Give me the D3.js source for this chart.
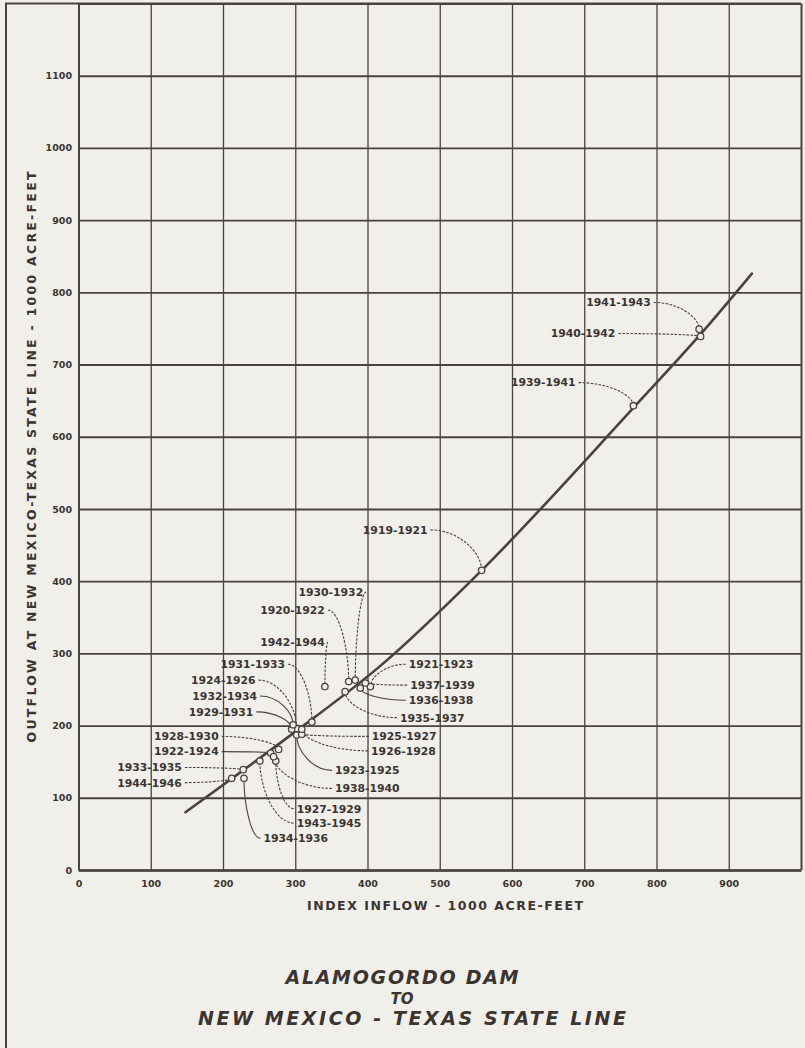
<!DOCTYPE html>
<html>
<head>
<meta charset="utf-8">
<script src="https://cdn.jsdelivr.net/npm/d3@7"></script>
<style>
  html, body { margin: 0; padding: 0; background: #f0efea; }
  svg { display: block; }
  text { font-family: "DejaVu Sans", sans-serif; fill: #3b3431; }
</style>
</head>
<body>
<svg id="chart" width="805" height="1048"></svg>
<script>
// three-year periods, index inflow and state line outflow (1000 acre-feet)
const periods = [
  "1919-1921", "1920-1922", "1921-1923", "1922-1924", "1923-1925", "1924-1926",
  "1925-1927", "1926-1928", "1927-1929", "1928-1930", "1929-1931", "1930-1932",
  "1931-1933", "1932-1934", "1933-1935", "1934-1936", "1935-1937", "1936-1938",
  "1937-1939", "1938-1940", "1939-1941", "1940-1942", "1941-1943", "1942-1944",
  "1943-1945", "1944-1946"
]
const inflow = [
  558, 374, 404, 266, 302, 302,
  309, 309, 273, 277, 295, 383,
  323, 297, 228, 229, 369, 390,
  397, 270, 768, 861, 859, 341,
  251, 212
]
const outflow = [
  415, 261, 254, 162, 187, 196,
  188, 195, 151, 167, 195, 263,
  205, 201, 139, 127, 247, 252,
  259, 157, 643, 739, 749, 254,
  151, 127
]

// drawn relation line
const curveInflow = [148, 302, 417, 558, 768, 861, 932]
const curveOutflow = [80, 193, 282, 415, 640, 742, 826]

const xTicks = [0, 100, 200, 300, 400, 500, 600, 700, 800, 900, 1000]
const yTicks = [0, 100, 200, 300, 400, 500, 600, 700, 800, 900, 1000, 1100, 1200]

// where each period label sits (chart units) and which way it reads
const labelAt = {
  "1930-1932": [394, 385, "end"],
  "1920-1922": [341, 360, "end"],
  "1942-1944": [341, 316, "end"],
  "1931-1933": [286, 285, "end"],
  "1924-1926": [245, 263, "end"],
  "1932-1934": [247, 241, "end"],
  "1929-1931": [242, 219, "end"],
  "1928-1930": [194, 185, "end"],
  "1922-1924": [194, 164, "end"],
  "1933-1935": [143, 142, "end"],
  "1944-1946": [143, 121, "end"],
  "1927-1929": [302, 85, "start"],
  "1943-1945": [302, 65, "start"],
  "1934-1936": [256, 44, "start"],
  "1921-1923": [457, 285, "start"],
  "1937-1939": [459, 256, "start"],
  "1936-1938": [457, 235, "start"],
  "1935-1937": [445, 211, "start"],
  "1925-1927": [406, 185, "start"],
  "1926-1928": [405, 165, "start"],
  "1923-1925": [355, 138, "start"],
  "1938-1940": [355, 113, "start"],
  "1919-1921": [483, 471, "end"],
  "1939-1941": [688, 675, "end"],
  "1940-1942": [743, 743, "end"],
  "1941-1943": [792, 786, "end"]
}
const solidLeaders = ["1932-1934", "1929-1931", "1934-1936", "1936-1938", "1923-1925", "1922-1924"]

const ink = "#4a423e"
const svg = d3.select("#chart")

const x = d3.scaleLinear().domain([0, 1000]).range([78.5, 801])
const y = d3.scaleLinear().domain([0, 1200]).range([870, 3.5])

// outer frame
svg.append("line")
  .attr("x1", 6).attr("x2", 6).attr("y1", 3.5).attr("y2", 1048)
  .attr("stroke", ink).attr("stroke-width", 2)
svg.append("line")
  .attr("x1", 5).attr("x2", x(1000)).attr("y1", y(1200)).attr("y2", y(1200))
  .attr("stroke", ink).attr("stroke-width", 2.2)

// vertical grid + x tick labels
const xAxis = svg.append("g")
  .attr("transform", `translate(0,${y(0)})`)
  .call(d3.axisBottom(x)
    .tickValues(xTicks)
    .tickSizeInner(-(y(0) - y(1200)))
    .tickSizeOuter(0)
    .tickPadding(10)
    .tickFormat(d => d < 1000 ? d : ""))
xAxis.select(".domain").attr("stroke", ink).attr("stroke-width", 2.6)
xAxis.selectAll(".tick line").attr("stroke", ink).attr("stroke-width", d => (d === 0 || d === 1000) ? 2 : 1.3)
xAxis.selectAll(".tick text")
  .attr("font-size", 9.5).attr("font-weight", "bold")
  .attr("font-family", "DejaVu Sans").attr("fill", "#3b3431")

// horizontal grid + y tick labels
const yAxis = svg.append("g")
  .attr("transform", `translate(${x(0)},0)`)
  .call(d3.axisLeft(y)
    .tickValues(yTicks)
    .tickSizeInner(-(x(1000) - x(0)))
    .tickSizeOuter(0)
    .tickPadding(6.5)
    .tickFormat(d => d < 1200 ? d : ""))
yAxis.select(".domain").attr("stroke", ink).attr("stroke-width", 2)
yAxis.selectAll(".tick line").attr("stroke", ink).attr("stroke-width", 1.9)
yAxis.selectAll(".tick text")
  .attr("font-size", 9.5).attr("font-weight", "bold")
  .attr("font-family", "DejaVu Sans").attr("fill", "#3b3431")

// relation line
const curvePts = curveInflow.map((v, i) => [v, curveOutflow[i]])
svg.append("path")
  .datum(curvePts)
  .attr("fill", "none")
  .attr("stroke", ink)
  .attr("stroke-width", 2.6)
  .attr("stroke-linecap", "round")
  .attr("d", d3.line().x(d => x(d[0])).y(d => y(d[1])).curve(d3.curveMonotoneX))

const points = periods.map((p, i) => {
  const [lx, ly, anchor] = labelAt[p]
  return { period: p, inflow: inflow[i], outflow: outflow[i], lx, ly, anchor }
})

// leaders from label to point
svg.append("g")
  .selectAll("path")
  .data(points)
  .join("path")
  .attr("fill", "none")
  .attr("stroke", ink)
  .attr("stroke-width", 1.1)
  .attr("stroke-dasharray", d => solidLeaders.includes(d.period) ? null : "2.6,1.4")
  .attr("d", d => {
    const sx = x(d.lx) + (d.anchor === "end" ? 3 : -3)
    const sy = y(d.ly)
    const px = x(d.inflow), py = y(d.outflow)
    const c1 = [sx + 0.55 * (px - sx), sy]
    const c2 = [px, sy + 0.55 * (py - sy)]
    return `M${sx},${sy}C${c1[0]},${c1[1]} ${c2[0]},${c2[1]} ${px},${py}`
  })

// points
svg.append("g")
  .selectAll("circle")
  .data(points)
  .join("circle")
  .attr("cx", d => x(d.inflow))
  .attr("cy", d => y(d.outflow))
  .attr("r", 3.2)
  .attr("fill", "#f0efea")
  .attr("stroke", ink)
  .attr("stroke-width", 1.3)

// period labels
svg.append("g")
  .selectAll("text")
  .data(points)
  .join("text")
  .attr("x", d => x(d.lx))
  .attr("y", d => y(d.ly))
  .attr("dy", "0.36em")
  .attr("text-anchor", d => d.anchor)
  .attr("font-size", 10.8)
  .attr("font-weight", "bold")
  .text(d => d.period)

// axis titles
svg.append("text")
  .attr("transform", "translate(36,457) rotate(-90)")
  .attr("text-anchor", "middle")
  .attr("font-size", 12.5)
  .attr("font-weight", "bold")
  .attr("textLength", 571)
  .attr("lengthAdjust", "spacing")
  .text("OUTFLOW AT NEW MEXICO-TEXAS STATE LINE - 1000 ACRE-FEET")

svg.append("text")
  .attr("x", 445).attr("y", 909.5)
  .attr("text-anchor", "middle")
  .attr("font-size", 12.5)
  .attr("font-weight", "bold")
  .attr("textLength", 276)
  .attr("lengthAdjust", "spacing")
  .text("INDEX INFLOW - 1000 ACRE-FEET")

// figure title
svg.append("text")
  .attr("x", 402).attr("y", 984)
  .attr("text-anchor", "middle")
  .attr("font-size", 19)
  .attr("font-style", "italic")
  .attr("font-weight", "bold")
  .attr("textLength", 233)
  .attr("lengthAdjust", "spacing")
  .text("ALAMOGORDO  DAM")
svg.append("text")
  .attr("x", 402).attr("y", 1004)
  .attr("text-anchor", "middle")
  .attr("font-size", 15)
  .attr("font-style", "italic")
  .attr("font-weight", "bold")
  .text("TO")
svg.append("text")
  .attr("x", 412).attr("y", 1025)
  .attr("text-anchor", "middle")
  .attr("font-size", 19)
  .attr("font-style", "italic")
  .attr("font-weight", "bold")
  .attr("textLength", 428)
  .attr("lengthAdjust", "spacing")
  .text("NEW MEXICO - TEXAS STATE LINE")
</script>
</body>
</html>
